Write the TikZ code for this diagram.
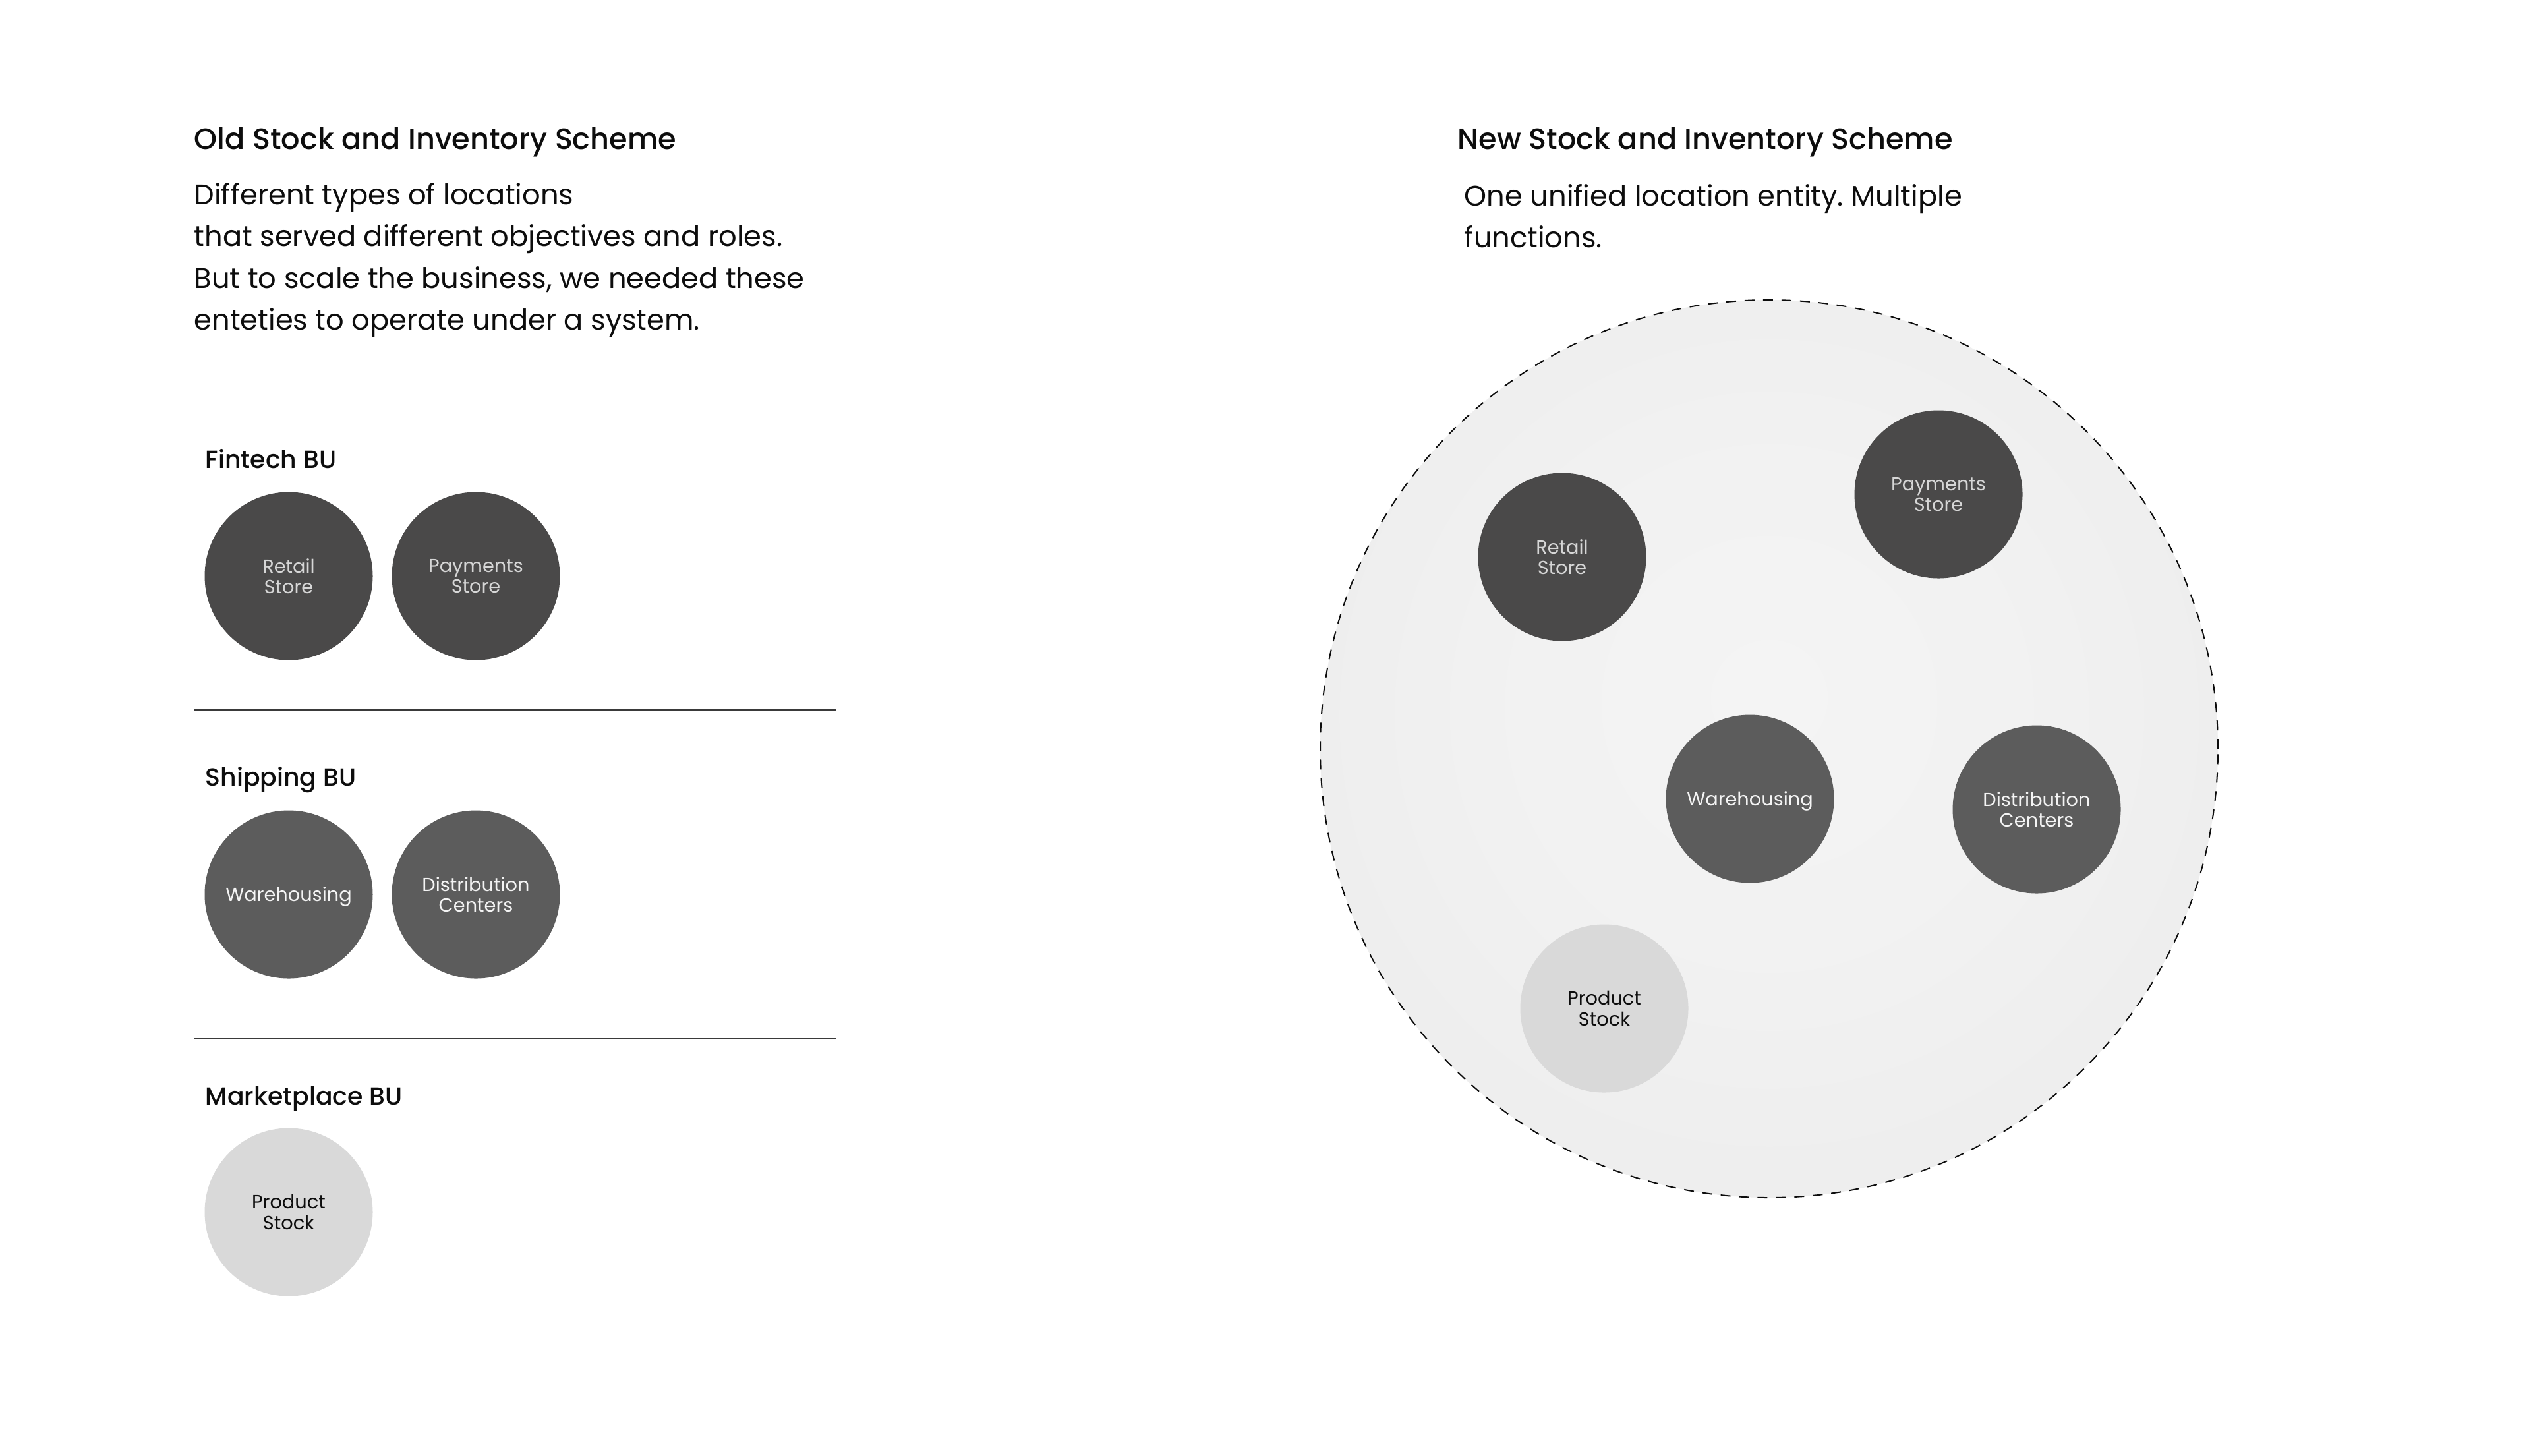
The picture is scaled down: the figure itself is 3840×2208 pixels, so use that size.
\documentclass[tikz,border=0pt]{standalone}
\usepackage{fontspec}
\setmainfont{Poppins}
\newfontfamily\medfont{Poppins Medium}
\frenchspacing
\definecolor{ink}{HTML}{0D0D0D}
\definecolor{locA}{HTML}{4A4949}
\definecolor{locB}{HTML}{5C5C5C}
\definecolor{locC}{HTML}{D9D9D9}
\definecolor{txtA}{HTML}{D6D6D6}
\definecolor{txtB}{HTML}{F4F4F4}
\definecolor{rule}{HTML}{3A3A3A}
\pgfdeclareradialshading{poolglow}{\pgfpoint{0bp}{3bp}}{rgb(0bp)=(0.957,0.957,0.957); rgb(14bp)=(0.948,0.948,0.948); rgb(50bp)=(0.902,0.902,0.902); rgb(60bp)=(0.902,0.902,0.902)}
\begin{document}
\begin{tikzpicture}[x=0.25pt,y=-0.25pt,
  title/.style={anchor=base west, inner sep=0pt, text=ink, font=\medfont\fontsize{11.15}{14}\selectfont},
  body/.style={anchor=base west, inner sep=0pt, text=ink, font=\fontsize{10.8}{13}\selectfont},
  bulabel/.style={anchor=base west, inner sep=0pt, text=ink, font=\medfont\fontsize{9.45}{12}\selectfont},
  loc/.style={circle, minimum size=63.75pt, inner sep=0pt, align=center, font=\fontsize{7.2}{7.9}\selectfont},
  darkloc/.style={loc, fill=locA, text=txtA},
  midloc/.style={loc, fill=locB, text=txtB},
  lightloc/.style={loc, fill=locC, text=ink},
  oneline/.style={text height=5.3pt, text depth=0pt},
  divider/.style={draw=rule, line width=0.5pt},
  pool/.style={circle, minimum size=340.5pt, inner sep=0pt, shading=poolglow, draw=ink, line width=0.5pt, dash pattern=on 3.75pt off 3.25pt}
]
\useasboundingbox[fill=white] (0,0) rectangle (3840,2208);

% ---------- left: old scheme ----------
\node[title] (oldtitle) at (294,226) {Old Stock and Inventory Scheme};
\node[body] (oldb1) at (294,310) {Different types of locations};
\node[body] (oldb2) at (294,373.5) {that served different objectives and roles.};
\node[body] (oldb3) at (294,437) {But to scale the business, we needed these};
\node[body] (oldb4) at (294,500.5) {enteties to operate under a system.};

\node[bulabel] (fintech) at (311,710) {Fintech BU};
\node[darkloc] (retailA) at (438,874) {Retail\\Store};
\node[darkloc] (payA) at (722,874) {Payments\\Store};

\draw[divider] (294,1077) -- (1268,1077);

\node[bulabel] (shipping) at (311,1192) {Shipping BU};
\node[midloc, oneline] (wareA) at (438,1357) {Warehousing};
\node[midloc] (distA) at (722,1357) {Distribution\\Centers};

\draw[divider] (294,1576) -- (1268,1576);

\node[bulabel] (market) at (311,1676) {Marketplace BU};
\node[lightloc] (prodA) at (438,1839) {Product\\Stock};

% ---------- right: new scheme ----------
\node[title] (newtitle) at (2211,226) {New Stock and Inventory Scheme};
\node[body] (newb1) at (2221,312) {One unified location entity. Multiple};
\node[body] (newb2) at (2221,375.5) {functions.};

\node[pool] (unified) at (2684,1136) {};
\node[darkloc] (retailB) at (2370,845) {Retail\\Store};
\node[darkloc] (payB) at (2941,750) {Payments\\Store};
\node[midloc, oneline] (wareB) at (2655,1212) {Warehousing};
\node[midloc] (distB) at (3090,1228) {Distribution\\Centers};
\node[lightloc] (prodB) at (2434,1530) {Product\\Stock};
\end{tikzpicture}
\end{document}
